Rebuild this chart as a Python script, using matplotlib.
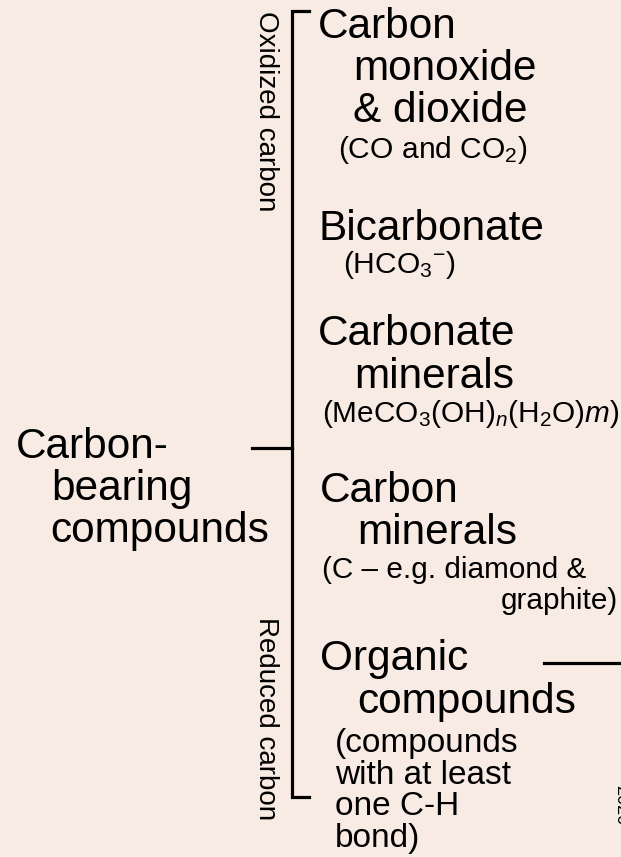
import matplotlib.pyplot as plt

plt.rcParams['font.family'] = ['Liberation Sans', 'DejaVu Sans']
plt.rcParams['mathtext.fontset'] = 'custom'
plt.rcParams['mathtext.rm'] = 'Liberation Sans'
plt.rcParams['mathtext.it'] = 'Liberation Sans:italic'

bg = '#F8EBE3'

# root label (left side)
root_lines = ['Carbon-', 'bearing', 'compounds']
root_x = [16, 51, 50]
root_y = [458, 500, 542]

# group labels on the bracket
groups = ['Oxidized carbon', 'Reduced carbon']
group_y = [11, 617]

# categories: title lines, formula lines
titles = [
    ['Carbon', 'monoxide', '& dioxide'],
    ['Bicarbonate'],
    ['Carbonate', 'minerals'],
    ['Carbon', 'minerals'],
    ['Organic', 'compounds'],
]
title_x = [[318, 353, 353], [318], [318, 354], [320, 357], [320, 357]]
title_y = [[38, 80, 122], [240], [345, 388], [502, 544], [670, 713]]

notes = [
    ['(CO and CO$_2$)'],
    ['(HCO$_3$$^{-}$)'],
    ['(MeCO$_3$(OH)$_n$(H$_2$O)$m$)'],
    ['(C \u2013 e.g. diamond &', 'graphite)'],
    ['(compounds', 'with at least', 'one C-H', 'bond)'],
]
note_x = [[338], [343], [322], [322, 618], [335, 335, 335, 335]]
note_y = [[158], [273], [422], [578, 609], [752, 784, 815, 847]]
note_ha = [['left'], ['left'], ['left'], ['left', 'right'], ['left'] * 4]
note_size = [21.6, 21.6, 21.4, 21.4, 24]

fig = plt.figure(figsize=(6.21, 8.57), dpi=100, facecolor=bg)
ax = fig.add_axes([0, 0, 1, 1])
ax.set_facecolor(bg)
ax.set_xlim(0, 621)
ax.set_ylim(857, 0)
ax.axis('off')

lw = 2.3
# bracket
ax.plot([309, 292, 292, 309], [11, 11, 797, 797], color='black', lw=lw,
        solid_joinstyle='miter')
ax.plot([252, 292], [448, 448], color='black', lw=lw)
# line to the right of organic compounds
ax.plot([544, 621], [663, 663], color='black', lw=lw, clip_on=False)

for txt, x, y in zip(root_lines, root_x, root_y):
    ax.text(x, y, txt, fontsize=30.5, va='baseline', ha='left')

for txt, y in zip(groups, group_y):
    ax.text(279, y, txt, fontsize=20, rotation=270, ha='left', va='top',
            rotation_mode='anchor')

for lines, xs, ys in zip(titles, title_x, title_y):
    for txt, x, y in zip(lines, xs, ys):
        ax.text(x, y, txt, fontsize=30.5, va='baseline', ha='left')

for lines, xs, ys, has, fs in zip(notes, note_x, note_y, note_ha, note_size):
    for txt, x, y, ha in zip(lines, xs, ys, has):
        ax.text(x, y, txt, fontsize=fs, va='baseline', ha=ha)

# side note cut off at the right edge, as in the source
ax.text(629, 785, '2020', fontsize=13, rotation=270, ha='left', va='top',
        rotation_mode='anchor')

fig.savefig('out.png', dpi=100, facecolor=bg)
